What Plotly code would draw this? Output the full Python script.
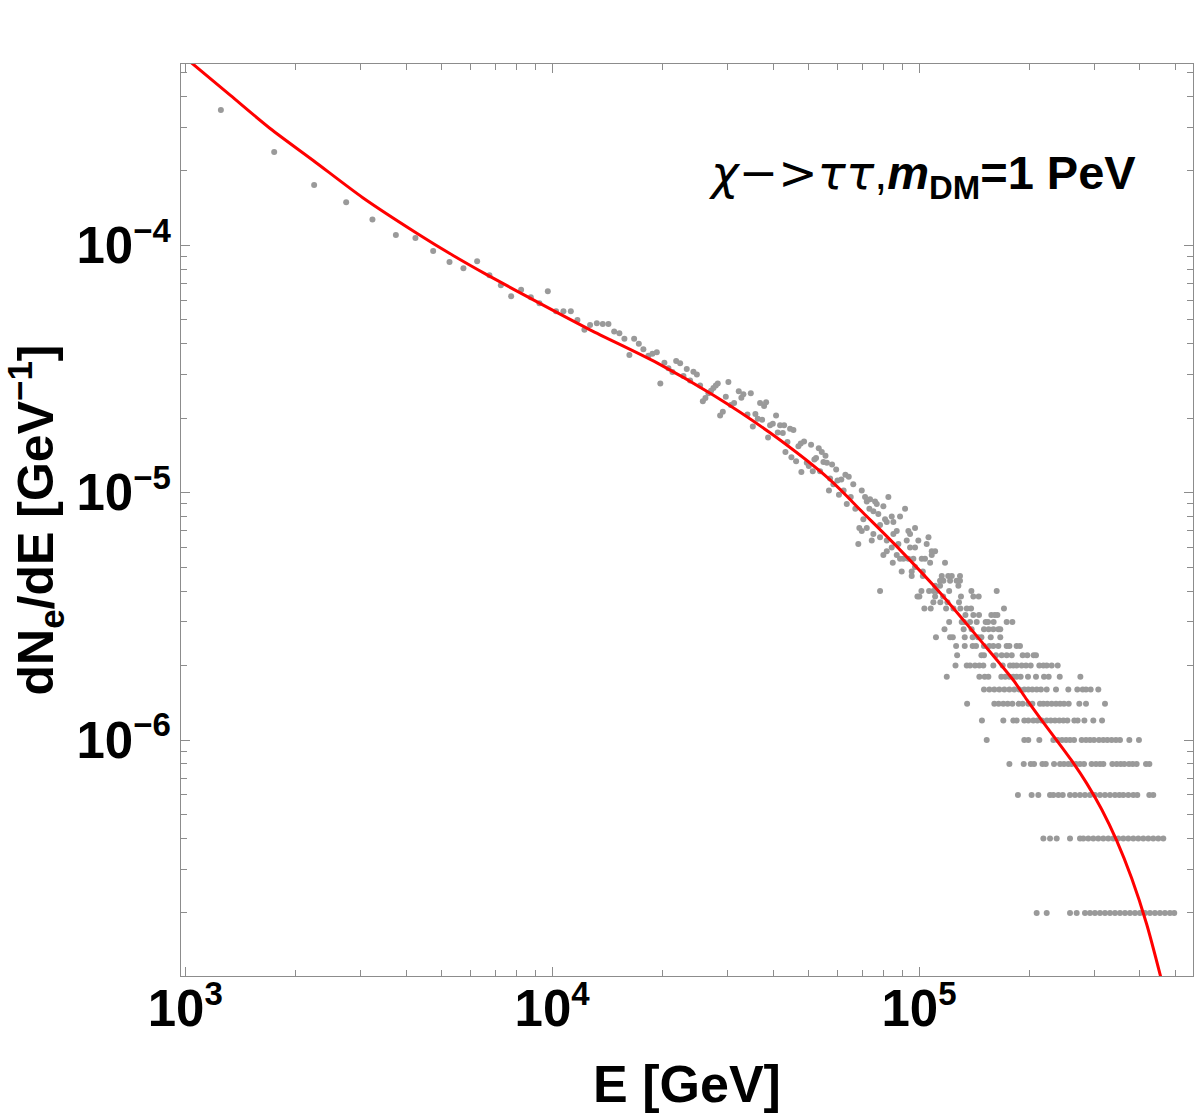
import math
import plotly.graph_objects as go

# ---------------- data ----------------
# red model curve (E in GeV, dN/dE in GeV^-1)
curve_E = [1000, 1326, 1704, 2233, 3055, 4288, 5373, 6651, 9101, 12690,
           19320, 27460, 39270, 57210, 70390, 88760, 114100, 146600, 180400, 196600,
           216000, 237300, 260700, 286400, 314700, 345700, 379800, 417300, 473000]
curve_Y = [5.73e-4, 4.04e-4, 2.964e-4, 2.201e-4, 1.553e-4, 1.116e-4, 9.09e-5, 7.59e-5, 5.90e-5, 4.55e-5,
           3.345e-5, 2.48e-5, 1.744e-5, 1.126e-5, 8.29e-6, 5.87e-6, 3.94e-6, 2.54e-6, 1.752e-6, 1.455e-6,
           1.200e-6, 9.97e-7, 8.25e-7, 6.68e-7, 5.24e-7, 3.92e-7, 2.76e-7, 1.80e-7, 8.87e-8]

# grey Monte-Carlo points, low-energy part
upper_E = [1251, 1748, 2246, 2746, 3238, 3751, 4241, 4740, 5252, 5731,
           6247, 6748, 7249, 7733, 8232, 8750, 9236, 9734, 10250, 10735,
           11246, 11720, 12246, 12690]
upper_Y = [3.52e-4, 2.38e-4, 1.75e-4, 1.49e-4, 1.27e-4, 1.10e-4, 1.07e-4, 9.48e-5, 8.56e-5, 8.07e-5,
           8.62e-5, 7.56e-5, 6.89e-5, 6.22e-5, 6.60e-5, 6.16e-5, 5.83e-5, 6.52e-5, 5.41e-5, 5.41e-5,
           5.41e-5, 4.99e-5, 4.55e-5, 4.76e-5]

# grey points, intermediate energies
mid_E = [13240, 13740, 14240, 14760, 15250, 15740, 16240, 16730, 17230, 17730,
         18300, 18770, 19290, 19720, 20230, 20750, 21280, 21780, 22330, 22800,
         23280, 23770, 24270, 24800, 25310, 25750, 26170, 26670, 27110, 27520,
         27930, 28280, 28700, 29190, 29740, 30230, 30690, 31330, 32260, 32790,
         33210, 34070, 34790, 35230, 35810, 36340, 36880, 37350, 37820, 38300,
         38780, 39270, 39940, 40770, 41200, 41810, 42530, 42880, 43240, 43790,
         44520, 44890, 45460, 46230, 46910, 47600, 47790, 48600, 49440, 50070,
         50790, 51330, 51850, 52400, 53290, 53730, 54320, 54880, 55590, 56080,
         56810, 57210, 57940, 58420, 59450, 59950, 60500, 61400, 62300, 62980,
         63540, 64330, 65140, 66180, 67030, 68310, 68750]
mid_Y = [4.84e-5, 4.80e-5, 4.80e-5, 4.48e-5, 4.41e-5, 4.19e-5, 3.60e-5, 4.19e-5, 4.00e-5, 3.80e-5,
         3.57e-5, 3.64e-5, 3.69e-5, 2.76e-5, 3.35e-5, 3.18e-5, 3.07e-5, 3.40e-5, 3.33e-5, 2.96e-5,
         3.16e-5, 2.84e-5, 3.08e-5, 3.00e-5, 2.71e-5, 2.34e-5, 2.41e-5, 2.52e-5, 2.58e-5, 2.65e-5,
         2.71e-5, 2.76e-5, 2.05e-5, 2.12e-5, 2.44e-5, 2.80e-5, 2.26e-5, 2.30e-5, 2.57e-5, 2.42e-5,
         2.50e-5, 2.07e-5, 2.52e-5, 1.85e-5, 2.08e-5, 1.99e-5, 2.30e-5, 1.97e-5, 2.24e-5, 2.32e-5,
         1.67e-5, 1.87e-5, 1.90e-5, 2.05e-5, 1.75e-5, 1.87e-5, 1.74e-5, 1.87e-5, 1.46e-5, 1.60e-5,
         1.81e-5, 1.39e-5, 1.79e-5, 1.34e-5, 1.54e-5, 1.58e-5, 1.21e-5, 1.61e-5, 1.32e-5, 1.28e-5,
         1.56e-5, 1.22e-5, 1.36e-5, 1.38e-5, 1.51e-5, 1.22e-5, 1.46e-5, 1.33e-5, 1.41e-5, 1.32e-5,
         1.02e-5, 1.14e-5, 1.30e-5, 1.08e-5, 1.24e-5, 1.12e-5, 9.8e-6, 1.13e-5, 1.02e-5, 1.18e-5,
         9.0e-6, 1.16e-5, 9.6e-6, 1.08e-5, 8.6e-6, 6.2e-6, 7.2e-6]

# grey points, dense band around 1e5 GeV
dense_E = [69800, 71260, 72040, 73530, 75870, 76690, 82490, 79940, 73210, 75070,
           77460, 84250, 88760, 91600, 70510, 72030, 69800, 75070, 78290, 80790,
           81670, 85120, 86940, 74320, 78290, 81670, 85120, 93520, 94520, 97520,
           92560, 99560, 106100, 104900, 81670, 79940, 84250, 87850, 94520, 97520,
           108300, 110600, 86940, 88760, 90670, 93520, 101700, 103800, 96490, 108300,
           84800, 107200, 117700, 95500, 97520, 89690, 102400]
dense_Y = [1.02e-5, 9.6e-6, 9.2e-6, 9.4e-6, 9.2e-6, 9.0e-6, 9.6e-6, 8.8e-6, 8.6e-6, 8.4e-6,
           8.2e-6, 8.0e-6, 8.0e-6, 8.6e-6, 7.8e-6, 7.2e-6, 7.0e-6, 6.8e-6, 7.4e-6, 7.8e-6,
           7.6e-6, 7.6e-6, 7.0e-6, 6.4e-6, 6.6e-6, 6.4e-6, 6.8e-6, 7.0e-6, 6.8e-6, 7.2e-6,
           6.4e-6, 6.4e-6, 6.6e-6, 6.2e-6, 5.8e-6, 5.6e-6, 6.0e-6, 6.2e-6, 6.0e-6, 6.0e-6,
           5.8e-6, 5.8e-6, 5.6e-6, 5.4e-6, 5.4e-6, 5.4e-6, 5.4e-6, 5.4e-6, 5.4e-6, 5.6e-6,
           5.2e-6, 5.2e-6, 5.2e-6, 4.8e-6, 5.0e-6, 4.8e-6, 4.8e-6]

# high-energy points fall on discrete levels (dN/dE value of each row, energies on it)
row_levels = [4.6e-6, 4.4e-6, 4.2e-6, 4.0e-6, 3.8e-6, 3.6e-6, 3.4e-6, 3.2e-6, 3.0e-6, 2.8e-6,
              2.6e-6, 2.4e-6, 2.2e-6, 2.0e-6, 1.8e-6, 1.6e-6, 1.4e-6, 1.2e-6, 1.0e-6, 8e-7,
              6e-7, 4e-7, 2e-7]
row_E = [
    [95500, 102400, 115300, 120100, 122800, 129300],
    [114100, 116500, 121500, 126600, 129300],
    [110600, 114100, 128000],
    [78300, 101500, 106500, 109500, 111700, 120800, 138900, 162800],
    [99000, 100200, 110600, 116300, 130100, 140600, 145400],
    [109400, 114300, 119500, 128500],
    [103400, 107600, 118500, 124100, 129600, 134900, 138600, 170400],
    [133800, 140600, 145700, 157400, 160800, 163500],
    [120800, 130700, 132600, 137700, 143600, 151900, 154200, 159700, 173300, 179600],
    [117300, 132300, 139100, 150300, 154800, 159400, 164500, 166500],
    [111200, 121500, 123600, 133200, 140000, 144800, 147900, 156800, 166500],
    [126200, 133200, 140000, 143000, 150300, 155500, 159400, 164500, 173300, 176300, 184500, 188400],
    [127000, 147900, 150300, 162100, 168000, 173300, 178900, 191600, 197300, 205300, 208300],
    [125700, 134900, 137700, 142100, 146000, 149700, 159400, 169000, 177000, 180700,
     184500, 190400, 195700, 201500, 212700, 218200, 222800, 229900, 238700],
    [119000, 146000, 151000, 154500, 167600, 171800, 176300, 180700, 184500, 189200,
     198100, 208300, 219100, 225600, 241800, 275200],
    [150300, 155500, 160400, 165500, 170800, 176300, 181800, 187600, 193600, 198500,
     203600, 209200, 214900, 222800, 236200, 255200, 270000, 279200, 285100, 293600, 308000],
    [135200, 160400, 164800, 169700, 174400, 179600, 186800, 191600, 198500, 203600,
     213600, 218200, 223700, 229900, 236200, 242300, 248400, 255800, 273400, 285100, 321200],
    [148400, 169700, 180700, 184500, 193600, 198500, 204900, 210100, 215900, 222800,
     228500, 234700, 241200, 247400, 253700, 265000, 270600, 282200, 298500, 315300],
    [152900, 193600, 198500, 212700, 232300, 238700, 245300, 251600, 257900, 264500,
     277500, 285100, 292400, 299800, 309300, 317900, 326000, 334900, 344100, 352900,
     374200, 397500],
    [176300, 192900, 201600, 205800, 216900, 221500, 233300, 242300, 248400, 255200,
     260600, 267800, 274600, 281600, 295400, 303600, 311300, 317900, 336400, 345600,
     354400, 362600, 373500, 382100, 391800, 415500, 424300],
    [186000, 202700, 211400, 227500, 232300, 239700, 246400, 257900, 266100, 274600,
     283300, 292400, 301600, 311300, 321200, 331400, 342000, 351500, 360400, 371800,
     383700, 393400, 424200, 434900],
    [218200, 227500, 237200, 257900, 274600, 280400, 289300, 298500, 308000, 317900,
     328000, 338400, 349200, 360400, 371800, 383700, 395900, 408500, 421500, 434900,
     448800, 463100],
    [209200, 222800, 257900, 268900, 283300, 292400, 301600, 311300, 321200, 331400,
     342000, 352900, 364200, 375700, 387700, 400000, 412800, 425900, 439500, 453500,
     467900, 482800, 496000],
]

# axis extents and tick labels
x_range_GeV = [974, 5.58e5]
y_range = [1.112e-7, 5.40e-4]
x_tick_vals = [1e3, 1e4, 1e5]
x_tick_exp = ["3", "4", "5"]
y_tick_vals = [1e-6, 1e-5, 1e-4]
y_tick_exp = ["\u22126", "\u22125", "\u22124"]

# ---------------- assemble ----------------
pts_E = upper_E + mid_E + dense_E
pts_Y = upper_Y + mid_Y + dense_Y
for lvl, es in zip(row_levels, row_E):
    pts_E = pts_E + es
    pts_Y = pts_Y + [lvl] * len(es)

FONT = "Liberation Sans, Arial, Helvetica, sans-serif"
FRAME = "#8c8c8c"
SUP = "<sup><span style='font-size:33px'>{}</span></sup>"

fig = go.Figure()
fig.add_trace(go.Scatter(
    x=pts_E, y=pts_Y, mode="markers",
    marker=dict(size=6, color="#9a9a9a", line=dict(width=0)),
    showlegend=False, hoverinfo="skip"))
fig.add_trace(go.Scatter(
    x=curve_E, y=curve_Y, mode="lines",
    line=dict(color="#ff0000", width=3, shape="spline", smoothing=0.8),
    showlegend=False, hoverinfo="skip"))

axis_common = dict(
    type="log", showgrid=False, zeroline=False,
    showline=True, linecolor=FRAME, linewidth=1, mirror="allticks",
    ticks="inside", ticklen=9, tickwidth=1, tickcolor=FRAME,
    tickmode="array",
    tickfont=dict(family=FONT, size=51, color="black", weight="bold"),
    minor=dict(ticks="inside", ticklen=6, tickwidth=1, tickcolor=FRAME,
               tickmode="linear", dtick="D1", showgrid=False),
    automargin=False,
)

fig.update_layout(
    width=1200, height=1113,
    margin=dict(l=181, r=7, t=64, b=137),
    paper_bgcolor="white", plot_bgcolor="white",
    xaxis=dict(
        axis_common,
        range=[math.log10(x_range_GeV[0]), math.log10(x_range_GeV[1])],
        tickvals=x_tick_vals,
        ticktext=["10" + SUP.format(e) for e in x_tick_exp],
        ticklabelstandoff=-12,
        title=dict(text="E [GeV]", standoff=30,
                   font=dict(family=FONT, size=52, color="black", weight="bold")),
    ),
    yaxis=dict(
        axis_common,
        range=[math.log10(y_range[0]), math.log10(y_range[1])],
        tickvals=y_tick_vals,
        ticktext=["10" + SUP.format(e) for e in y_tick_exp],
        ticklabelstandoff=-1,
        title=dict(text="dN<sub>e</sub>/dE [GeV<sup>\u22121</sup>]", standoff=22,
                   font=dict(family=FONT, size=50, color="black", weight="bold")),
    ),
)

fig.add_annotation(
    xref="paper", yref="paper", x=0.9457, y=0.878,
    xanchor="right", yanchor="middle", showarrow=False,
    text=("<span style='font-family:DejaVu Sans'><i>\u03c7</i>\u2212&gt;<i>\u03c4\u03c4</i></span>,"
          "<b><i>m</i><sub>DM</sub>=1 PeV</b>"),
    font=dict(family=FONT, size=47, color="black"),
)

fig.write_html("out.html")
